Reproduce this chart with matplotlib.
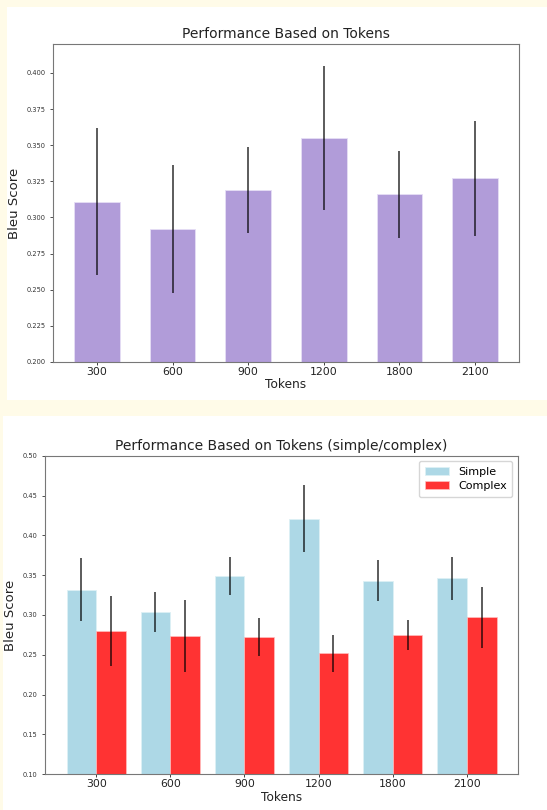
import matplotlib
matplotlib.use("Agg")
import matplotlib.pyplot as plt
from matplotlib.patches import Rectangle
import numpy as np

# ---- data ----
tokens = ["300", "600", "900", "1200", "1800", "2100"]

# top chart: overall bleu score
overall_mean = [0.311, 0.292, 0.319, 0.355, 0.316, 0.327]
overall_err = [0.051, 0.044, 0.030, 0.050, 0.030, 0.040]

# bottom chart: simple vs complex
simple_mean = [0.332, 0.304, 0.349, 0.421, 0.343, 0.346]
simple_err = [0.040, 0.025, 0.024, 0.042, 0.026, 0.027]
complex_mean = [0.280, 0.274, 0.272, 0.252, 0.275, 0.297]
complex_err = [0.044, 0.045, 0.024, 0.023, 0.019, 0.038]

fig = plt.figure(figsize=(5.47, 8.10), dpi=100, facecolor="#FFFBE8")

# white "screenshot" panels behind each chart
fig.patches.append(Rectangle((0.0128, 0.5062), 0.99, 0.485, transform=fig.transFigure,
                             facecolor="white", edgecolor="none", zorder=-1))
fig.patches.append(Rectangle((0.0055, 0.0), 0.995, 0.4864, transform=fig.transFigure,
                             facecolor="white", edgecolor="none", zorder=-1))

# ===== top chart =====
ax1 = fig.add_axes([0.0969, 0.5531, 0.8519, 0.3926])
x = np.arange(len(tokens))
ax1.bar(x, overall_mean, width=0.6, color="#B19CD9", edgecolor="#E6DEF5", linewidth=0.6,
        yerr=overall_err, error_kw=dict(ecolor="black", elinewidth=1.2, alpha=0.75))
ax1.set_ylim(0.2, 0.42)
ax1.set_yticks(np.arange(0.2, 0.401, 0.025))
ax1.yaxis.set_major_formatter(matplotlib.ticker.FormatStrFormatter("%.3f"))
ax1.set_xticks(x)
ax1.set_xticklabels(tokens)
ax1.tick_params(axis="y", labelsize=4.8, length=2, width=0.6, colors="#333333")
ax1.tick_params(axis="x", labelsize=7.8, length=2, width=0.6, pad=1.5, colors="#222222")
ax1.set_title("Performance Based on Tokens", fontsize=10, color="#222222", pad=4)
ax1.set_xlabel("Tokens", fontsize=8.7, labelpad=1, color="#222222")
ax1.set_ylabel("Bleu Score", fontsize=9.5, labelpad=4, color="#222222")
for s in ax1.spines.values():
    s.set_color("#777777")

# ===== bottom chart =====
ax2 = fig.add_axes([0.0823, 0.0441, 0.8647, 0.3933])
w = 0.4
ax2.bar(x - w / 2, simple_mean, width=w, color="lightblue", edgecolor="#DDF0F5", linewidth=0.6,
        yerr=simple_err, error_kw=dict(ecolor="black", elinewidth=1.2, alpha=0.75),
        label="Simple")
ax2.bar(x + w / 2, complex_mean, width=w, color="red", alpha=0.8, edgecolor="#FFC0C0",
        linewidth=0.6, yerr=complex_err,
        error_kw=dict(ecolor="black", elinewidth=1.2, alpha=0.75), label="Complex")
ax2.set_ylim(0.1, 0.5)
ax2.set_yticks(np.arange(0.1, 0.501, 0.05))
ax2.yaxis.set_major_formatter(matplotlib.ticker.FormatStrFormatter("%.2f"))
ax2.set_xticks(x)
ax2.set_xticklabels(tokens)
ax2.tick_params(axis="y", labelsize=4.8, length=2, width=0.6, colors="#333333")
ax2.tick_params(axis="x", labelsize=7.8, length=2, width=0.6, pad=1.5, colors="#222222")
ax2.set_title("Performance Based on Tokens (simple/complex)", fontsize=10, color="#222222", pad=4)
ax2.set_xlabel("Tokens", fontsize=8.7, labelpad=1, color="#222222")
ax2.set_ylabel("Bleu Score", fontsize=9.5, labelpad=4, color="#222222")
for s in ax2.spines.values():
    s.set_color("#777777")
ax2.legend(loc="upper right", fontsize=8, handlelength=2.2, borderpad=0.5,
           labelspacing=0.4, handletextpad=0.8)

fig.savefig("out.png", dpi=100, facecolor=fig.get_facecolor())
